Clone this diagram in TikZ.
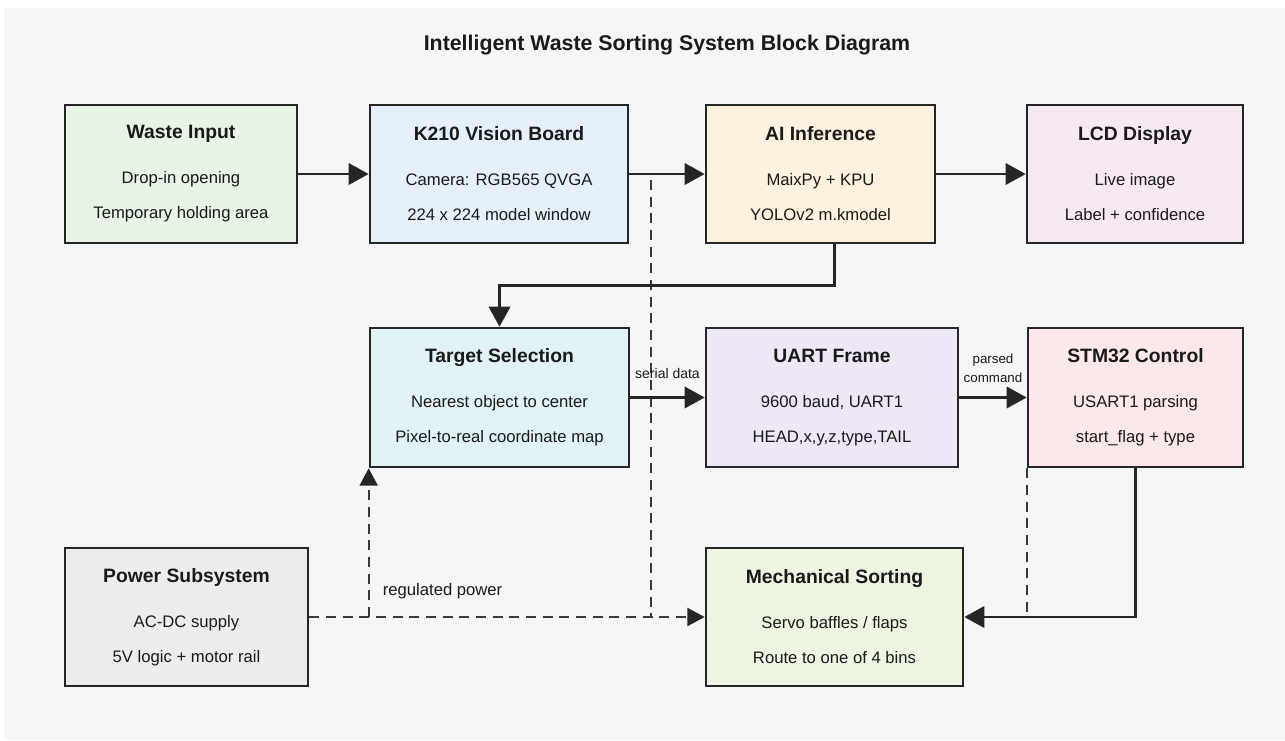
\documentclass[tikz,border=0pt]{standalone}
\usepackage{fontspec}
\setmainfont{Liberation Sans}
\usetikzlibrary{arrows.meta}

\definecolor{bgpanel}{HTML}{F5F6F8}
\definecolor{inkc}{HTML}{1A1A1A}
\definecolor{edgec}{HTML}{262626}
\definecolor{dashc}{HTML}{3A3A3A}
\definecolor{fillwi}{HTML}{E8F4E6}
\definecolor{fillvb}{HTML}{E6F0FA}
\definecolor{fillai}{HTML}{FDF1DF}
\definecolor{filllcd}{HTML}{F6E9F4}
\definecolor{filltgt}{HTML}{E2F3F8}
\definecolor{filluart}{HTML}{EDE7F6}
\definecolor{fillstm}{HTML}{FCE8EA}
\definecolor{fillpwr}{HTML}{EDEDED}
\definecolor{fillmech}{HTML}{EEF5E2}

\newcommand{\blkhead}[1]{{\fontsize{14.5}{17}\selectfont\bfseries #1}}

\begin{document}
\begin{tikzpicture}[x=0.75pt,y=-0.75pt,
    blk/.style={draw=edgec, line width=2pt, minimum height=103.5pt, inner sep=0pt,
        align=center, text=inkc, font=\fontsize{12.5}{26.25}\selectfont},
    flow/.style={draw=edgec, line width=1.9pt, -{Triangle[length=15pt,width=16pt]}},
    aux/.style={draw=dashc, line width=1.7pt, dash pattern=on 7.5pt off 5pt},
    auxtip/.style={aux, -{Triangle[length=13pt,width=13.5pt,fill=edgec,color=edgec]}},
    lbl/.style={text=inkc, font=\fontsize{10.5}{14.25}\selectfont}]
    % Canvas
    \fill[white] (0,0) rectangle (1285,740);
    \fill[bgpanel] (4,8) rectangle (1285,740);

    % Title
    \node[text=inkc, font=\fontsize{16}{19}\selectfont\bfseries] (title) at (667,45)
        {Intelligent Waste Sorting System Block Diagram};

    % Top row
    \node[blk, fill=fillwi, minimum width=174pt] (wi) at (181,174)
        {\blkhead{Waste Input}\\[7.5pt] Drop-in opening\\ Temporary holding area};
    \node[blk, fill=fillvb, minimum width=193.5pt] (vb) at (499,174)
        {\blkhead{K210 Vision Board}\\[7.5pt] Camera: RGB565 QVGA\\ 224 x 224 model window};
    \node[blk, fill=fillai, minimum width=171.75pt] (ai) at (820.5,174)
        {\blkhead{AI Inference}\\[7.5pt] MaixPy + KPU\\ YOLOv2 m.kmodel};
    \node[blk, fill=filllcd, minimum width=162pt] (lcd) at (1135,174)
        {\blkhead{LCD Display}\\[7.5pt] Live image\\ Label + confidence};

    % Middle row
    \node[blk, fill=filltgt, minimum width=194.25pt, minimum height=104.25pt] (tgt) at (499.5,397.5)
        {\blkhead{Target Selection}\\[7.5pt] Nearest object to center\\ Pixel-to-real coordinate map};
    \node[blk, fill=filluart, minimum width=189pt, minimum height=104.25pt] (uart) at (832,397.5)
        {\blkhead{UART Frame}\\[7.5pt] 9600 baud, UART1\\ HEAD,x,y,z,type,TAIL};
    \node[blk, fill=fillstm, minimum width=161.25pt, minimum height=104.25pt] (stm) at (1135.5,397.5)
        {\blkhead{STM32 Control}\\[7.5pt] USART1 parsing\\ start\_flag + type};

    % Bottom row
    \node[blk, fill=fillpwr, minimum width=182.25pt] (pwr) at (186.5,617)
        {\blkhead{Power Subsystem}\\[7.5pt] AC-DC supply\\ 5V logic + motor rail};
    \node[blk, fill=fillmech, minimum width=192.75pt] (mech) at (834.5,617)
        {\blkhead{Mechanical Sorting}\\[7.5pt] Servo baffles / flaps\\ Route to one of 4 bins};

    % Power and tap lines
    \coordinate (tap) at (651,180);
    \draw[aux] (tap) -- (tap |- pwr.east);
    \draw[auxtip] (pwr) -- node[lbl, pos=0.337, above=9pt, font=\fontsize{12.5}{15}\selectfont] (rp) {regulated power} (mech);
    \draw[auxtip] (tgt.south west |- pwr.east) -- (tgt.south west);
    \draw[aux] (stm.south west) -- (stm.south west |- mech.east);

    % Data path
    \draw[flow] (wi) -- (vb);
    \draw[flow] (vb) -- (ai);
    \draw[flow] (ai) -- (lcd);
    \draw[flow] ([xshift=10.5pt]ai.south) -- ++(0,41) -| (tgt.north);
    \draw[flow] (tgt) -- node[lbl, above=10pt] (sd) {serial data} (uart);
    \draw[flow] (uart) -- node[lbl, align=center, above=7pt, font=\fontsize{10}{14.25}\selectfont] (pc) {parsed\\command} (stm);
    \draw[flow] (stm.south) |- (mech.east);
\end{tikzpicture}
\end{document}
